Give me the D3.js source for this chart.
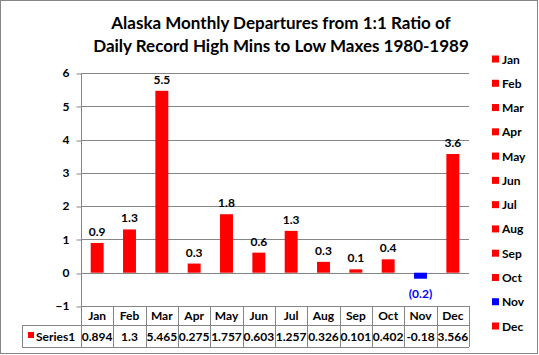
<!DOCTYPE html>
<html><head><meta charset="utf-8">
<script src="https://cdn.jsdelivr.net/npm/d3@7"></script>
<style>body{margin:0;background:#fff}svg{display:block}text{font-family:Lato,"Open Sans",sans-serif}</style>
</head><body>
<svg id="c" width="539" height="355"></svg>
<script>
const categories = ["Jan","Feb","Mar","Apr","May","Jun","Jul","Aug","Sep","Oct","Nov","Dec"];
const values = [0.894,1.3,5.465,0.275,1.757,0.603,1.257,0.326,0.101,0.402,-0.18,3.566];
const tableLabels = ["0.894","1.3","5.465","0.275","1.757","0.603","1.257","0.326","0.101","0.402","-0.18","3.566"];
const dataLabels = ["0.9","1.3","5.5","0.3","1.8","0.6","1.3","0.3","0.1","0.4","(0.2)","3.6"];
const barColors = ["#ff0000","#ff0000","#ff0000","#ff0000","#ff0000","#ff0000","#ff0000","#ff0000","#ff0000","#ff0000","#0000ff","#ff0000"];
const yTicks = [-1,0,1,2,3,4,5,6];
const seriesName = "Series1";
const titleLines = ["Alaska Monthly Departures from 1:1 Ratio of","Daily Record High Mins to Low Maxes 1980-1989"];

const svg = d3.select("#c");
const grid = "#868686";
svg.append("rect").attr("x",0.5).attr("y",0.5).attr("width",537).attr("height",353).attr("fill","#fff").attr("stroke",grid);

const left = 81, right = 469;
const x = d3.scaleBand().domain(categories).range([left,right]).paddingInner(0.6).paddingOuter(0.3);
const xc = d3.scaleBand().domain(categories).range([left,right]);
const y = d3.scaleLinear().domain([-1,6]).range([306,73]);

// title
svg.append("g").selectAll("text").data(titleLines).join("text")
  .attr("x",281).attr("y",(d,i)=>29+i*23).attr("text-anchor","middle")
  .attr("font-size",17).attr("font-weight","bold").attr("fill","#000").text(d=>d);

// gridlines
svg.append("g").selectAll("line").data(yTicks).join("line")
  .attr("x1",left).attr("x2",right).attr("y1",d=>Math.round(y(d))+0.5).attr("y2",d=>Math.round(y(d))+0.5)
  .attr("stroke",grid).attr("stroke-width",1);

// y axis
const ya = svg.append("g").attr("transform",`translate(${left+0.5},0)`)
  .call(d3.axisLeft(y).tickValues(yTicks).tickSize(5).tickFormat(d3.format("d")));
ya.select(".domain").remove();
ya.selectAll(".tick line").attr("stroke",grid).attr("transform",d=>`translate(0,${Math.round(y(d))+0.5-y(d)})`);
ya.selectAll(".tick text").attr("font-size",12).attr("font-weight","bold").attr("fill","#000").attr("x",-12).attr("font-family","Lato,sans-serif");
svg.append("line").attr("x1",left+0.5).attr("x2",left+0.5).attr("y1",Math.round(y(6))).attr("y2",347).attr("stroke",grid);

// bars
svg.append("g").selectAll("rect").data(values).join("rect")
  .attr("x",(d,i)=>x(categories[i])).attr("width",x.bandwidth())
  .attr("y",d=>y(Math.max(0,d))).attr("height",d=>Math.abs(y(d)-y(0)))
  .attr("fill",(d,i)=>barColors[i]);

// data labels
svg.append("g").selectAll("text").data(values).join("text")
  .attr("x",(d,i)=>x(categories[i])+x.bandwidth()/2)
  .attr("y",d=>d>=0? y(d)-7 : y(d)+19)
  .attr("text-anchor","middle").attr("font-size",12).attr("font-weight","bold")
  .attr("fill",(d,i)=>d<0?"#0000ff":"#000").text((d,i)=>dataLabels[i]);

// data table
const t = svg.append("g");
const rowTop=306, rowMid=325, rowBot=347, tLeft=22;
t.append("line").attr("x1",tLeft).attr("x2",right).attr("y1",rowMid+0.5).attr("y2",rowMid+0.5).attr("stroke",grid);
t.append("line").attr("x1",tLeft).attr("x2",right).attr("y1",rowBot+0.5).attr("y2",rowBot+0.5).attr("stroke",grid);
t.append("line").attr("x1",tLeft+0.5).attr("x2",tLeft+0.5).attr("y1",rowMid).attr("y2",rowBot).attr("stroke",grid);
t.selectAll(".vl").data(categories).join("line").attr("class","vl")
  .attr("x1",d=>Math.round(xc(d)+xc.bandwidth())+0.5).attr("x2",d=>Math.round(xc(d)+xc.bandwidth())+0.5)
  .attr("y1",rowTop).attr("y2",rowBot).attr("stroke",grid);
t.selectAll(".hd").data(categories).join("text").attr("class","hd")
  .attr("x",d=>xc(d)+xc.bandwidth()/2).attr("y",320).attr("text-anchor","middle")
  .attr("font-size",12).attr("font-weight","bold").attr("fill","#000").text(d=>d);
t.selectAll(".vv").data(tableLabels).join("text").attr("class","vv")
  .attr("x",(d,i)=>xc(categories[i])+xc.bandwidth()/2).attr("y",341).attr("text-anchor","middle")
  .attr("font-size",12).attr("font-weight","bold").attr("fill","#000").text(d=>d);
t.append("rect").attr("x",28).attr("y",332).attr("width",6).attr("height",6).attr("fill","#ff0000");
t.append("text").attr("x",36).attr("y",341).attr("font-size",12).attr("font-weight","bold").attr("fill","#000").text(seriesName);

// legend
const lg = svg.append("g");
const ly = d3.scalePoint().domain(categories).range([59,326]);
lg.selectAll("rect").data(categories).join("rect")
  .attr("x",492).attr("y",d=>ly(d)-3.5).attr("width",7).attr("height",7).attr("fill",(d,i)=>barColors[i]);
lg.selectAll("text").data(categories).join("text")
  .attr("x",502).attr("y",d=>ly(d)+4.5).attr("font-size",12).attr("font-weight","bold").attr("fill","#000").text(d=>d);
</script>
</body></html>
